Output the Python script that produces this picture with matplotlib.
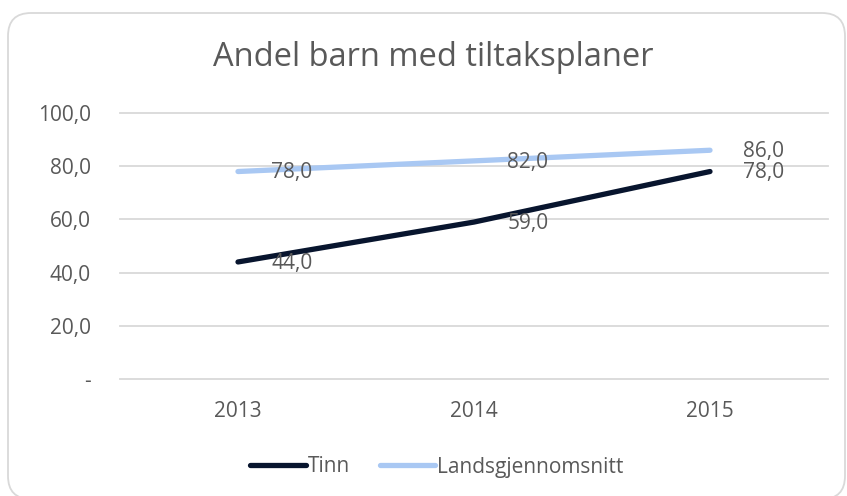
import matplotlib
matplotlib.use("Agg")
import matplotlib.pyplot as plt
from matplotlib.patches import FancyBboxPatch
from matplotlib.ticker import FuncFormatter

plt.rcParams['font.family'] = ['Open Sans', 'DejaVu Sans']

years = ['2013', '2014', '2015']
tinn = [44.0, 59.0, 78.0]
lands = [78.0, 82.0, 86.0]
yticks = [0, 20, 40, 60, 80, 100]

text_col = '#595959'

fig = plt.figure(figsize=(8.47, 4.96), dpi=100)
ax = fig.add_axes([120/847, 1 - 379/496, 708/847, 266/496])

# rounded chart border (inches), bottom-right runs past the image edge
border = FancyBboxPatch((0.08, -0.03), 8.37, 4.86,
                        boxstyle="round,pad=0,rounding_size=0.23",
                        transform=fig.dpi_scale_trans, facecolor='none',
                        edgecolor='#d9d9d9', lw=1.3)
fig.patches.append(border)

x = [1, 2, 3]
ax.plot(x, tinn, color='#08152e', lw=3.8, solid_capstyle='round', label='Tinn', zorder=3)
ax.plot(x, lands, color='#a9c8f3', lw=3.8, solid_capstyle='round', label='Landsgjennomsnitt', zorder=3)

def fmt(v):
    return f"{v:.1f}".replace('.', ',')

for series in (tinn, lands):
    for xi, v in zip(x, series):
        ax.annotate(fmt(v), (xi, v), xytext=(24, -1), textcoords='offset points',
                    ha='left', va='center', fontsize=15, color=text_col, zorder=4)

ax.set_xlim(0.5, 3.5)
ax.set_ylim(0, 100)
ax.set_yticks(yticks)
ax.yaxis.set_major_formatter(FuncFormatter(lambda v, p: '-' if v == 0 else fmt(v)))
ax.set_xticks(x)
ax.set_xticklabels(years)
ax.grid(axis='y', color='#d9d9d9', lw=1.3)
for gl in ax.get_ygridlines():
    gl.set_clip_on(False)
ax.set_axisbelow(True)
for s in ax.spines.values():
    s.set_visible(False)
ax.tick_params(length=0, labelsize=15, colors=text_col)
ax.tick_params(axis='y', pad=21)
ax.tick_params(axis='x', pad=16)

fig.suptitle('Andel barn med tiltaksplaner', x=433/847, y=1 - 57/496, va='center',
             fontsize=23.5, color=text_col)

fig.legend(loc='center', bbox_to_anchor=(437/847, 1 - 467/496), ncol=2, frameon=False,
           fontsize=15, labelcolor=text_col, handlelength=2.65, handletextpad=0.1,
           columnspacing=1.45)

fig.savefig('out.png', dpi=100)
